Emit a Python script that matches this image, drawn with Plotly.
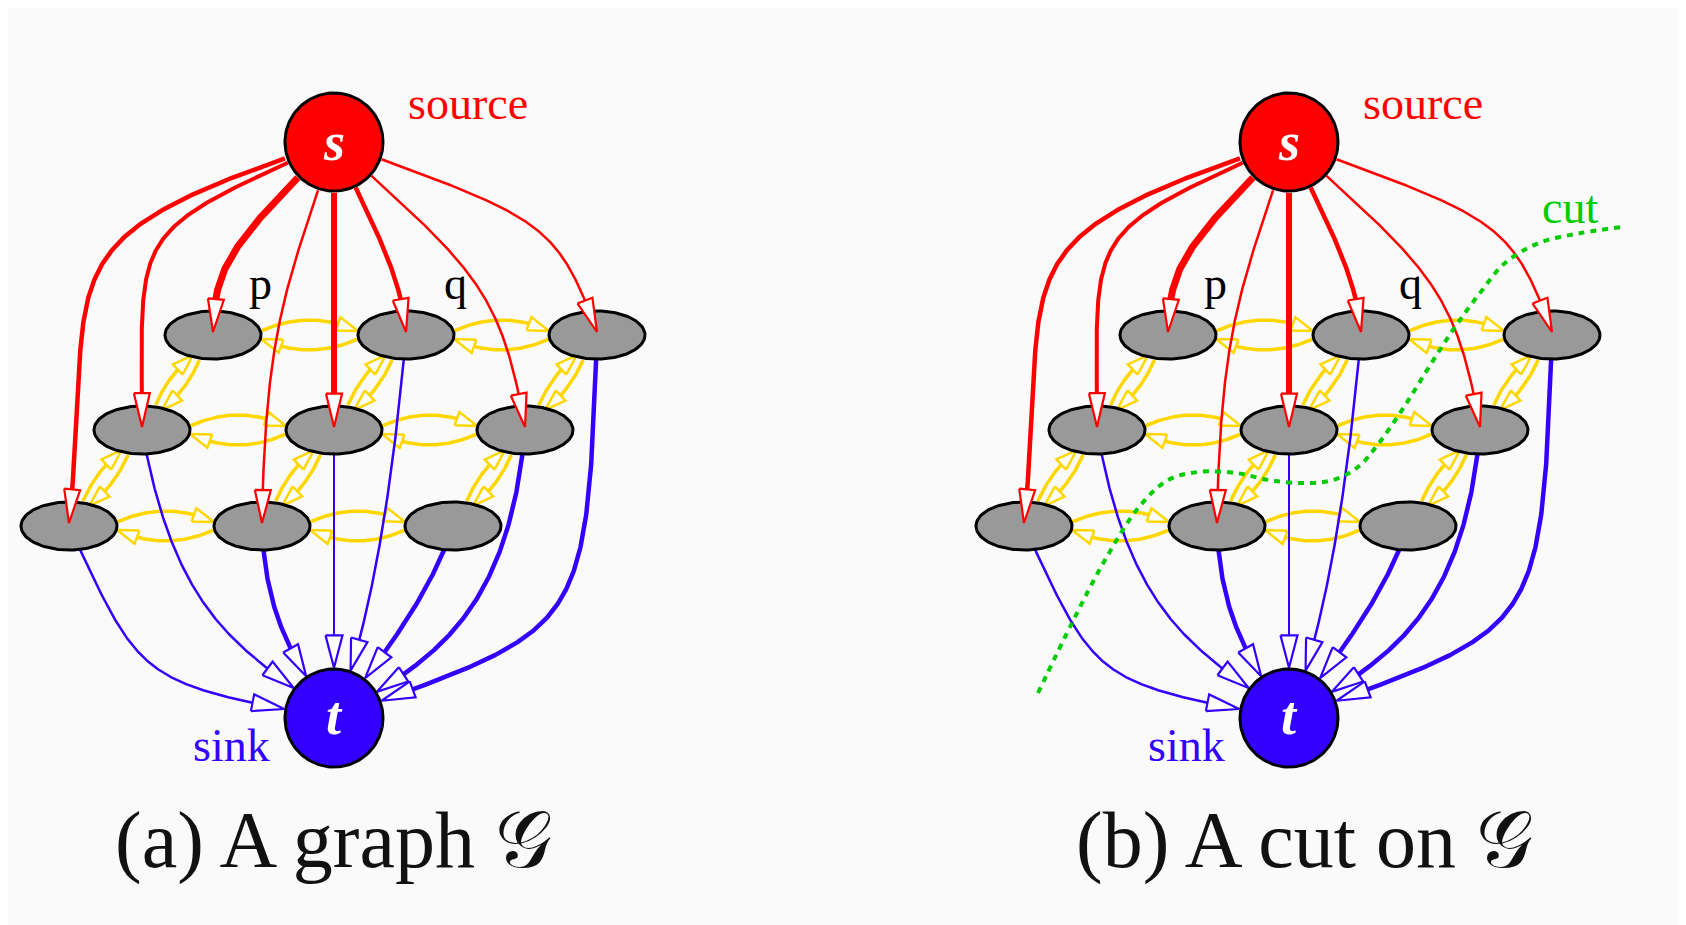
import numpy as np
import plotly.graph_objects as go

W, H = 1686, 925
OFF = 8  # page body margin compensation
BG = "#fafafa"
RED = "#ff0000"
BLUE = "#3300ff"
YEL = "#ffd700"
GREEN = "#00cc00"
GRAY = "#999999"

# ---------------- data ----------------
panel_dx = [0, 955]
node_names = ["s", "t", "a1", "a2", "a3", "b1", "b2", "b3", "c1", "c2", "c3"]
node_x = [334, 334, 213, 406, 597, 142, 334, 525, 69, 262, 453]
node_y = [142, 718, 335, 335, 335, 430, 430, 430, 526, 526, 526]

# source -> node edges: target, width, departure angle, reach, arrival angle, reach
red_targets = ["c1", "b1", "a1", "c2", "b2", "a2", "b3", "a3"]
red_widths = [4.5, 4.0, 7.0, 2.5, 6.0, 4.5, 2.5, 2.5]
red_dep = [162, 156, 136, 108, 90, 65, 42, 20]
red_a = [320, 230, 160, 150, 100, 90, 190, 220]
red_arr = [96, 90, 93, 91, 90, 85, 80, 70]
red_b = [260, 200, 60, 200, 100, 60, 140, 120]

# node -> sink edges
blue_sources = ["c1", "b1", "c2", "b2", "a2", "c3", "b3", "a3"]
blue_widths = [2.5, 2.5, 4.5, 2.0, 2.5, 4.5, 4.5, 4.5]
blue_dep = [65, 80, 88, 90, 95, 108, 95, 92]
blue_a = [170, 200, 90, 100, 150, 80, 200, 306]
blue_arr = [10, 38, 55, 90, 112, 128, 148, 160]
blue_b = [200, 110, 70, 100, 100, 60, 100, 267]

# neighbourhood (n-links)
yellow_pairs = [("a1", "a2"), ("a2", "a3"), ("b1", "b2"), ("b2", "b3"),
                ("c1", "c2"), ("c2", "c3"),
                ("a1", "b1"), ("a2", "b2"), ("a3", "b3"),
                ("b1", "c1"), ("b2", "c2"), ("b3", "c3")]

# cut curve (right panel)
cut_x = [1038, 1072, 1105, 1139, 1168, 1198, 1236, 1269, 1303, 1333, 1358,
         1379, 1404, 1429, 1455, 1480, 1505, 1539, 1581, 1623]
cut_y = [693, 623, 560, 507, 480, 472, 473, 480, 483, 480, 467,
         443, 407, 367, 327, 293, 263, 243, 233, 227]

captions = ["(a) A graph 𝒢", "(b) A cut on 𝒢"]
caption_x = [333, 1304]

# ---------------- geometry helpers ----------------
RX, RY = 48, 24
RST = 49


def pos(name, dx):
    i = node_names.index(name)
    return np.array([node_x[i] + dx, node_y[i]], dtype=float)


def unit(deg):
    r = np.deg2rad(deg)
    return np.array([np.cos(r), np.sin(r)])


def cubic(p0, p1, p2, p3, n=400):
    t = np.linspace(0, 1, n)[:, None]
    return ((1 - t) ** 3) * p0 + 3 * ((1 - t) ** 2) * t * p1 + 3 * (1 - t) * t ** 2 * p2 + t ** 3 * p3


def quad(p0, p1, p2, n=200):
    t = np.linspace(0, 1, n)[:, None]
    return ((1 - t) ** 2) * p0 + 2 * (1 - t) * t * p1 + t ** 2 * p2


def inside(pts, c, rx, ry):
    return ((pts[:, 0] - c[0]) / rx) ** 2 + ((pts[:, 1] - c[1]) / ry) ** 2 < 1


def clip_start(pts, c, rx, ry):
    ins = inside(pts, c, rx, ry)
    idx = np.argmax(~ins)
    return pts[idx:]


def clip_end(pts, c, rx, ry):
    ins = inside(pts, c, rx, ry)
    out = np.where(~ins)[0]
    return pts[: out[-1] + 1]


def split_arrow(pts, L):
    seg = np.hypot(np.diff(pts[:, 0]), np.diff(pts[:, 1]))
    rev = np.concatenate([[0], np.cumsum(seg[::-1])])
    k = int(np.searchsorted(rev, L))
    k = min(k, len(pts) - 2)
    cut = len(pts) - 1 - k
    return pts[: cut + 1], pts[cut], pts[-1]


def arrow_poly(base, tip, hw):
    u = tip - base
    u = u / np.hypot(*u)
    n = np.array([-u[1], u[0]])
    p = [base + hw * n, tip, base - hw * n, base + hw * n]
    return [q[0] for q in p], [q[1] for q in p]


fig = go.Figure()


def add_line(pts, color, width):
    fig.add_trace(go.Scatter(x=pts[:, 0], y=pts[:, 1], mode="lines",
                             line=dict(color=color, width=width),
                             hoverinfo="skip", showlegend=False))


def add_arrow(base, tip, hw, color, lw):
    ax, ay = arrow_poly(base, tip, hw)
    fig.add_trace(go.Scatter(x=ax, y=ay, mode="lines", fill="toself", fillcolor="white",
                             line=dict(color=color, width=lw), hoverinfo="skip",
                             showlegend=False))


def add_ellipse(c, rx, ry, fill, lw=3):
    th = np.linspace(0, 2 * np.pi, 120)
    fig.add_trace(go.Scatter(x=c[0] + rx * np.cos(th), y=c[1] + ry * np.sin(th), mode="lines",
                             fill="toself", fillcolor=fill, line=dict(color="black", width=lw),
                             hoverinfo="skip", showlegend=False))


for dx in panel_dx:
    # yellow n-links
    for A, B in yellow_pairs:
        pa, pb = pos(A, dx), pos(B, dx)
        u = (pb - pa) / np.hypot(*(pb - pa))
        n = np.array([-u[1], u[0]])
        horizontal = abs(u[1]) < 0.3
        off, bulge = (4, 22) if horizontal else (4, 8)
        da = 1 / np.hypot(u[0] / RX, u[1] / RY)
        for sgn, src, dst in ((-1, pa, pb), (1, pb, pa)):
            uu = (dst - src) / np.hypot(*(dst - src))
            p0 = src + da * uu + sgn * off * n
            p2 = dst - da * uu + sgn * off * n
            p1 = (p0 + p2) / 2 + sgn * bulge * n
            pts = quad(p0, p1, p2)
            line, base, tip = split_arrow(pts, 21)
            add_line(line, YEL, 3.5)
            add_arrow(base, tip, 7, YEL, 2.5)

    # blue t-links
    tpos = pos("t", dx)
    for src, w, d0, a, d1, b in zip(blue_sources, blue_widths, blue_dep, blue_a, blue_arr, blue_b):
        p0 = pos(src, dx)
        pts = cubic(p0, p0 + a * unit(d0), tpos - b * unit(d1), tpos)
        pts = clip_start(pts, p0, RX, RY)
        pts = clip_end(pts, tpos, RST + 1, RST + 1)
        line, base, tip = split_arrow(pts, 32)
        add_line(line, BLUE, w)
        add_arrow(base, tip, 8.5, BLUE, 2.2)

    # grid nodes
    for nm in node_names[2:]:
        add_ellipse(pos(nm, dx), RX, RY, GRAY)
    add_ellipse(pos("s", dx), RST, RST, RED)
    add_ellipse(tpos, RST, RST, BLUE)

    # red t-links
    spos = pos("s", dx)
    for dst, w, d0, a, d1, b in zip(red_targets, red_widths, red_dep, red_a, red_arr, red_b):
        p3 = pos(dst, dx) - np.array([0, 3])
        pts = cubic(spos, spos + a * unit(d0), p3 - b * unit(d1), p3)
        pts = clip_start(pts, spos, RST + 1, RST + 1)
        line, base, tip = split_arrow(pts, 33)
        add_line(line, RED, w)
        add_arrow(base, tip, 8, RED, 2.2)

# cut
fig.add_trace(go.Scatter(x=cut_x, y=cut_y, mode="lines",
                         line=dict(color=GREEN, width=4, dash="6px,6px", shape="spline"),
                         hoverinfo="skip", showlegend=False))

SERIF = "Liberation Serif"
ann = []
for k, dx in enumerate(panel_dx):
    ann += [
        dict(x=468 + dx, y=103, text="source", font=dict(family=SERIF, size=46, color=RED)),
        dict(x=231 + dx, y=745, text="sink", font=dict(family=SERIF, size=46, color=BLUE)),
        dict(x=260 + dx, y=283, text="p", font=dict(family=SERIF, size=46, color="black")),
        dict(x=455 + dx, y=283, text="q", font=dict(family=SERIF, size=46, color="black")),
        dict(x=334 + dx, y=142, text="<b><i>s</i></b>", font=dict(family=SERIF, size=54, color="white")),
        dict(x=334 + dx, y=716, text="<b><i>t</i></b>", font=dict(family=SERIF, size=54, color="white")),
        dict(x=caption_x[k], y=840, text=captions[k], font=dict(family=SERIF, size=80, color="#111111")),
    ]
ann.append(dict(x=1570, y=207, text="cut", font=dict(family=SERIF, size=46, color=GREEN)))
for a_ in ann:
    a_.update(xref="x", yref="y", showarrow=False, xanchor="center", yanchor="middle")

fig.update_layout(
    width=W, height=H, margin=dict(l=0, r=0, t=0, b=0),
    paper_bgcolor=BG, plot_bgcolor=BG,
    xaxis=dict(range=[OFF, W + OFF], visible=False, fixedrange=True),
    yaxis=dict(range=[H + OFF, OFF], visible=False, fixedrange=True),
    shapes=[dict(type="rect", xref="x", yref="y", x0=OFF - 10, y0=OFF - 10, x1=W + OFF, y1=6,
                 fillcolor="white", line=dict(width=0), layer="below"),
            dict(type="rect", xref="x", yref="y", x0=OFF - 10, y0=OFF - 10, x1=5, y1=H + OFF,
                 fillcolor="white", line=dict(width=0), layer="below")],
    annotations=ann,
)

fig.write_html("out.html")
